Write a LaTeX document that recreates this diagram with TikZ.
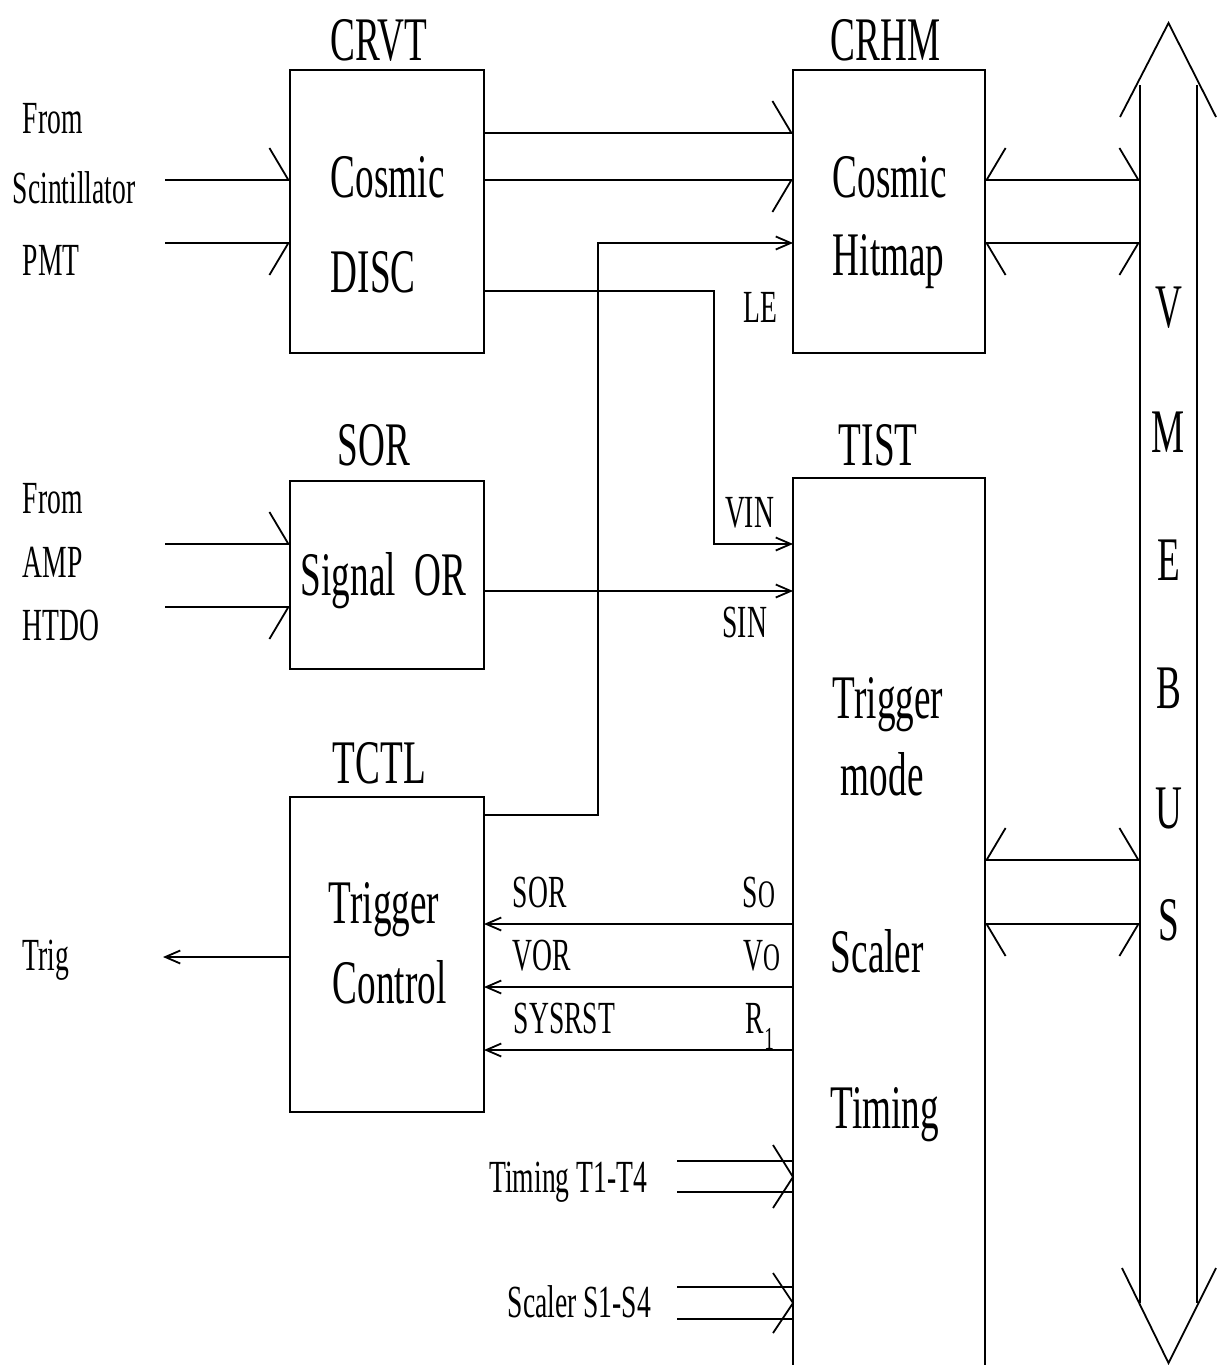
\documentclass[tikz,border=0pt]{standalone}
\usepackage{fontspec}
\setmainfont{Liberation Serif}[FakeStretch=0.6]
\usetikzlibrary{arrows.meta, positioning}

\begin{document}
\begin{tikzpicture}[
    x=0.5pt, y=-0.5pt,
    line width=0.9pt,
    unit/.style={draw, rectangle, line width=0.9pt, inner sep=0pt, outer sep=0pt},
    big/.style={font=\fontsize{31}{36}\selectfont, inner sep=0pt},
    small/.style={font=\fontsize{23}{27}\selectfont, inner sep=0pt},
    title/.style={big},
    sig/.style={-{Straight Barb[length=7.5pt, width=6.5pt]}},
    barbup/.style={-{Straight Barb[left, length=9.5pt, width=32pt]}},
    barbdown/.style={-{Straight Barb[right, length=9.5pt, width=32pt]}},
    busup/.style={{Straight Barb[right, length=9.5pt, width=32pt]}-{Straight Barb[left, length=9.5pt, width=32pt]}},
    busdown/.style={{Straight Barb[left, length=9.5pt, width=32pt]}-{Straight Barb[right, length=9.5pt, width=32pt]}}
]
    \useasboundingbox (0,0) rectangle (1216,1365);

    % Modules
    \node [unit, minimum width=97pt, minimum height=141.5pt] (crvt) at (387,211.5) {};
    \node [unit, minimum width=96pt, minimum height=141.5pt] (crhm) at (889,211.5) {};
    \node [unit, minimum width=97pt, minimum height=94pt] (sor) at (387,575) {};
    \node [unit, minimum width=97pt, minimum height=157.5pt] (tctl) at (387,954.5) {};
    \node [unit, draw=none, minimum width=96pt, minimum height=443.5pt] (tist) at (889,921.5) {};
    \draw (tist.south west) |- (tist.north east) -- (tist.south east);

    % Module names
    \node [title, above right=4pt and 20pt of crvt.north west] (crvtname) {CRVT};
    \node [title, above right=4pt and 18.5pt of crhm.north west] (crhmname) {CRHM};
    \node [title, above right=7pt and 23.5pt of sor.north west] (sorname) {SOR};
    \node [title, above right=5.5pt and 22.5pt of tist.north west] (tistname) {TIST};
    \node [title, above right=6pt and 21pt of tctl.north west] (tctlname) {TCTL};

    % Module texts
    \node [big, anchor=base west] (crvttxt1) at (330,197) {Cosmic};
    \node [big, anchor=base west] (crvttxt2) at (330,292) {DISC};
    \node [big, anchor=base west] (crhmtxt1) at (832,197) {Cosmic};
    \node [big, anchor=base west] (crhmtxt2) at (832,275) {Hitmap};
    \node [big, anchor=base west] (sortxt) at (300,595) {Signal~~OR};
    \node [big, anchor=base west] (tisttxt1) at (832,718) {Trigger};
    \node [big, anchor=base west] (tisttxt2) at (840,795) {mode};
    \node [big, anchor=base west] (tisttxt3) at (830,972) {Scaler};
    \node [big, anchor=base west] (tisttxt4) at (830,1128) {Timing};
    \node [big, anchor=base west] (tctltxt1) at (328,923) {Trigger};
    \node [big, anchor=base west] (tctltxt2) at (332,1003) {Control};

    % Outside labels
    \node [small, anchor=base west] (from1) at (22,133) {From};
    \node [small, anchor=base west] (scint) at (12,203) {Scintillator};
    \node [small, anchor=base west] (pmt) at (22,275) {PMT};
    \node [small, anchor=base west] (from2) at (22,513) {From};
    \node [small, anchor=base west] (amp) at (22,577) {AMP};
    \node [small, anchor=base west] (htdo) at (22,640) {HTDO};
    \node [small, anchor=base west] (trig) at (22,970) {Trig};

    % Pin labels
    \node [small, anchor=base east] (le) at (778,322) {LE};
    \node [small, anchor=base east] (vin) at (775,527) {VIN};
    \node [small, anchor=base east] (sin) at (768,637) {SIN};
    \node [small, anchor=base west] (sorlbl) at (512,907) {SOR};
    \node [small, anchor=base west] (vorlbl) at (512,970) {VOR};
    \node [small, anchor=base west] (rstlbl) at (513,1033) {SYSRST};
    \node [small, anchor=base west] (so) at (742,907) {S{\fontsize{19.5}{20}\selectfont O}};
    \node [small, anchor=base west] (vo) at (743,970) {V{\fontsize{19.5}{20}\selectfont O}};
    \node [small, anchor=base west] (rone) at (745,1033) {R\raisebox{-8pt}{\fontsize{16}{18}\selectfont 1}};
    \node [small, anchor=base east] (timlbl) at (648,1192) {Timing T1-T4};
    \node [small, anchor=base east] (scllbl) at (652,1317) {Scaler S1-S4};

    % Rows and columns of the wires
    \coordinate (hitA) at (0,133);
    \coordinate (hitB) at (0,180);
    \coordinate (leRow) at (0,243);
    \coordinate (discRow) at (0,291);
    \coordinate (vinRow) at (0,544);
    \coordinate (sinRow) at (0,591);
    \coordinate (tctlRow) at (0,815);
    \coordinate (busRow) at (0,860);
    \coordinate (soRow) at (0,924);
    \coordinate (voRow) at (0,987);
    \coordinate (rRow) at (0,1050);
    \coordinate (vinX) at (714,0);
    \coordinate (leX) at (598,0);

    % Inputs
    \coordinate (in1) at (165,180);
    \coordinate (in2) at (165,243);
    \coordinate (in3) at (165,544);
    \coordinate (in4) at (165,607);
    \coordinate (trigout) at (163,957);
    \draw [barbup] (in1) -- (in1 -| crvt.west);
    \draw [barbdown] (in2) -- (in2 -| crvt.west);
    \draw [barbup] (in3) -- (in3 -| sor.west);
    \draw [barbdown] (in4) -- (in4 -| sor.west);
    \draw [sig] (tctl.west |- trigout) -- (trigout);

    % Module links
    \draw [barbup] (crvt.east |- hitA) -- (crhm.west |- hitA);
    \draw [barbdown] (crvt.east |- hitB) -- (crhm.west |- hitB);
    \draw [sig] (crvt.east |- discRow) -| (vinX |- vinRow) -- (tist.west |- vinRow);
    \draw [sig] (sor.east |- sinRow) -- (tist.west |- sinRow);
    \draw [sig] (tctl.east |- tctlRow) -| (leX |- leRow) -- (crhm.west |- leRow);
    \draw [sig] (tist.west |- soRow) -- (tctl.east |- soRow);
    \draw [sig] (tist.west |- voRow) -- (tctl.east |- voRow);
    \draw [sig] (tist.west |- rRow) -- (tctl.east |- rRow);

    % Timing and scaler inputs
    \coordinate (timA) at (677,1161);
    \coordinate (timB) at (677,1192);
    \coordinate (sclA) at (677,1287);
    \coordinate (sclB) at (677,1319);
    \coordinate (timTip) at (tist.west |- 0,1177);
    \coordinate (sclTip) at (tist.west |- 0,1303);
    \draw (timA) -- (tist.west |- timA);
    \draw (timB) -- (tist.west |- timB);
    \draw (sclA) -- (tist.west |- sclA);
    \draw (sclB) -- (tist.west |- sclB);
    \draw ([shift={(-20,-32)}]timTip) -- (timTip) -- ([shift={(-20,31)}]timTip);
    \draw ([shift={(-20,-30)}]sclTip) -- (sclTip) -- ([shift={(-20,30)}]sclTip);

    % VME bus
    \node [inner sep=0pt, outer sep=0pt, minimum width=28.5pt, minimum height=609pt] (bus) at (1168.5,694) {};
    \draw (bus.north west) -- (bus.south west);
    \draw (bus.north east) -- (bus.south east);
    \draw ([shift={(-20,32)}]bus.north west) -- ([shift={(0,-62)}]bus.north) -- ([shift={(19,32)}]bus.north east);
    \draw ([shift={(-18,-35)}]bus.south west) -- ([shift={(0,60)}]bus.south) -- ([shift={(19,-35)}]bus.south east);
    \foreach \ch/\yy in {V/327, M/452, E/580, B/708, U/828, S/940}
        \node [big, anchor=base] (bus\ch) at (1168.5,\yy) {\ch};

    \draw [busup] (crhm.east |- hitB) -- (bus.west |- hitB);
    \draw [busdown] (crhm.east |- leRow) -- (bus.west |- leRow);
    \draw [busup] (tist.east |- busRow) -- (bus.west |- busRow);
    \draw [busdown] (tist.east |- soRow) -- (bus.west |- soRow);
\end{tikzpicture}
\end{document}
